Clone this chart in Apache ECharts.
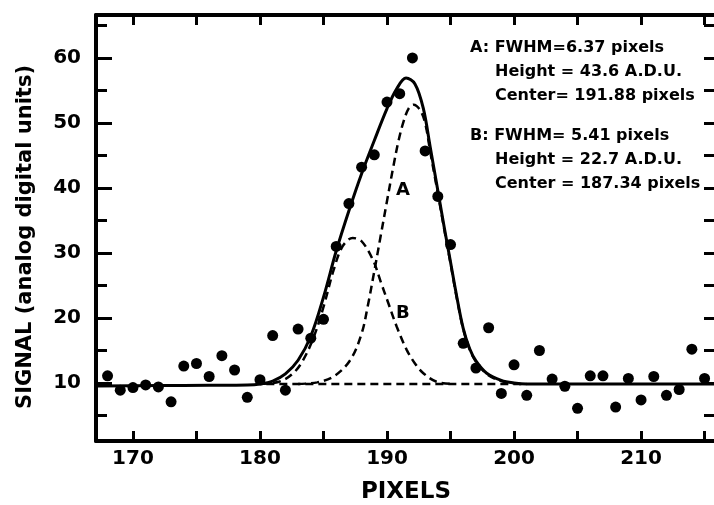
<!DOCTYPE html>
<html>
<head>
<meta charset="utf-8">
<title>Signal vs pixels</title>
<script src="https://cdn.jsdelivr.net/npm/echarts@6/dist/echarts.min.js"></script>
<style>
  html, body { margin: 0; padding: 0; background: #fff; }
  #main { width: 714px; height: 505px; }
</style>
</head>
<body>
<div id="main"></div>
<script>
  // measured signal, one point per pixel
  var pixels = [168, 169, 170, 171, 172, 173, 174, 175, 176, 177, 178, 179, 180, 181, 182, 183, 184, 185, 186, 187,
    188, 189, 190, 191, 192, 193, 194, 195, 196, 197, 198, 199, 200, 201, 202, 203, 204, 205, 206, 207,
    208, 209, 210, 211, 212, 213, 214, 215]
  var signal = [11.1, 8.9, 9.3, 9.7, 9.4, 7.1, 12.6, 13.0, 11.0, 14.2, 12.0, 7.8, 10.5, 17.3, 8.9, 18.3, 16.9, 19.8, 31.0, 37.6,
    43.2, 45.1, 53.2, 54.5, 60.0, 45.7, 38.7, 31.3, 16.1, 12.3, 18.5, 8.4, 12.8, 8.1, 15.0, 10.6, 9.5, 6.1, 11.1, 11.1,
    6.3, 10.7, 7.4, 11.0, 8.1, 9.0, 15.2, 10.7]

  // fitted sum (solid line)
  var fitX = [167.1, 172, 176, 179, 180, 181, 182, 183, 184, 185, 186, 187, 188, 189, 190, 190.75, 191.5, 192.2, 192.85,
    193.4, 194, 194.5, 195, 195.5, 196, 196.5, 197, 197.85, 199, 200, 201, 216]
  var fitY = [9.55, 9.6, 9.65, 9.7, 9.85, 10.3, 11.4, 13.5, 17.2, 23.2, 30.3, 36.5, 42.2, 47.3, 52.2, 55.2, 56.9, 56.0, 52.3,
    46.3, 39.6, 34.0, 28.6, 23.2, 18.4, 15.3, 13.4, 11.5, 10.4, 10.0, 9.85, 9.85]

  // component A (dashed)
  var compAX = [183, 184.5, 185.8, 187.1, 188, 188.5, 189, 189.5, 190, 190.5, 190.9, 191.3, 191.7, 192.1, 192.6, 193,
    193.4, 194, 194.5, 195, 195.5, 196, 196.5, 197, 197.85, 199, 200.5]
  var compAY = [9.85, 10.1, 11.0, 13.5, 17.6, 22.0, 27.2, 32.6, 38.0, 43.3, 47.2, 50.2, 52.2, 52.8, 52.0, 50.0,
    45.6, 39.2, 33.7, 28.4, 23.0, 18.3, 15.2, 13.3, 11.4, 10.3, 9.85]

  // component B (dashed)
  var compBX = [180, 181.5, 182.5, 183.3, 184.2, 185, 185.8, 186.5, 187.3, 188, 188.9, 189.5, 190.1, 190.76, 191.55,
    192.2, 192.86, 193.9, 195.2]
  var compBY = [9.85, 10.2, 11.3, 13.2, 16.9, 21.7, 27.4, 31.0, 32.3, 31.8, 28.9, 25.6, 22.3, 18.7, 15.1,
    13.0, 11.5, 10.2, 9.85]

  var baseX = [180.5, 201]
  var baseY = [9.85, 9.85]

  var xTicks = [170, 175, 180, 185, 190, 195, 200, 205, 210, 215]
  var xLabels = [170, 180, 190, 200, 210]
  var yMajor = [10, 20, 30, 40, 50, 60]
  var yMinor = [5, 15, 25, 35, 45, 55, 65]
  var yRight = [5, 10, 15, 20, 25, 30, 35, 40, 45, 50, 55, 60, 65]

  var notes = [
    'A: FWHM=6.37 pixels', 'Height = 43.6 A.D.U.', 'Center= 191.88 pixels',
    'B: FWHM= 5.41 pixels', 'Height = 22.7 A.D.U.', 'Center = 187.34 pixels'
  ]

  function zip(xs, ys) {
    var out = []
    for (var i = 0; i < xs.length; i++) out.push([xs[i], ys[i]])
    return out
  }

  var FONT = 'DejaVu Sans'
  var xMin = 167.09, xMax = 215.9
  var yMin = 1.08, yMax = 66.6

  var thick = { show: true, onZero: false, lineStyle: { color: '#000', width: 4 } }

  function xAxisOf(pos, labels) {
    return {
      type: 'value', position: pos, min: xMin, max: xMax,
      axisLine: thick,
      axisTick: { inside: true, length: 10, customValues: xTicks, lineStyle: { color: '#000', width: 3 } },
      axisLabel: labels ? { customValues: xLabels, margin: 8, color: '#000', fontFamily: FONT, fontWeight: 'bold', fontSize: 20 } : { show: false },
      splitLine: { show: false },
      name: labels ? 'PIXELS' : '',
      nameLocation: 'middle', nameGap: 40,
      nameTextStyle: { color: '#000', fontFamily: FONT, fontWeight: 'bold', fontSize: 23 }
    }
  }

  var labelsLeft = 470, labelsIndent = 495
  var noteY = [50, 74, 98, 138, 162, 186]
  var graphics = notes.map(function (t, i) {
    return {
      type: 'text', left: (i % 3 === 0) ? labelsLeft : labelsIndent, top: noteY[i] - 10,
      style: { text: t, fill: '#000', font: 'bold 16px "' + FONT + '"' }
    }
  })
  graphics.push({ type: 'text', left: 396, top: 181, style: { text: 'A', fill: '#000', font: 'bold 18px "' + FONT + '"' } })
  graphics.push({ type: 'text', left: 396, top: 304, style: { text: 'B', fill: '#000', font: 'bold 18px "' + FONT + '"' } })

  var dashed = { color: '#000', width: 2.5, type: [8, 5] }

  var chart = echarts.init(document.getElementById('main'))
  chart.setOption({
    animation: false,
    backgroundColor: '#fff',
    // keep the frame where the reference has it, labels may sit near the edge
    grid: { left: 96, right: -2, top: 15, bottom: 64, outerBoundsMode: 'none' },
    xAxis: [xAxisOf('bottom', true), xAxisOf('top', false)],
    yAxis: [
      {
        type: 'value', position: 'left', min: yMin, max: yMax,
        axisLine: thick,
        axisTick: { inside: true, length: 16, customValues: yMajor, lineStyle: { color: '#000', width: 3 } },
        axisLabel: { customValues: yMajor, margin: 15, color: '#000', fontFamily: FONT, fontWeight: 'bold', fontSize: 20 },
        splitLine: { show: false },
        name: 'SIGNAL (analog digital units)',
        nameLocation: 'middle', nameGap: 60,
        nameTextStyle: { color: '#000', fontFamily: FONT, fontWeight: 'bold', fontSize: 21, padding: [0, 18, 0, 0] }
      },
      {
        type: 'value', position: 'left', min: yMin, max: yMax,
        axisLine: { show: false },
        axisTick: { inside: true, length: 11, customValues: yMinor, lineStyle: { color: '#000', width: 3 } },
        axisLabel: { show: false },
        splitLine: { show: false }
      },
      {
        type: 'value', position: 'right', min: yMin, max: yMax,
        axisLine: thick,
        axisTick: { inside: true, length: 12, customValues: yRight, lineStyle: { color: '#000', width: 3 } },
        axisLabel: { show: false },
        splitLine: { show: false }
      }
    ],
    graphic: graphics,
    series: [
      { type: 'line', data: zip(baseX, baseY), showSymbol: false, lineStyle: dashed, z: 2 },
      { type: 'line', data: zip(compBX, compBY), showSymbol: false, smooth: 0.35, lineStyle: dashed, z: 2 },
      { type: 'line', data: zip(compAX, compAY), showSymbol: false, smooth: 0.35, lineStyle: dashed, z: 2 },
      {
        type: 'line', data: zip(fitX, fitY), showSymbol: false, smooth: 0.35,
        lineStyle: { color: '#000', width: 3 }, z: 3
      },
      {
        type: 'scatter', data: zip(pixels, signal), symbol: 'circle', symbolSize: 11,
        itemStyle: { color: '#000', opacity: 1 }, z: 4
      }
    ]
  })
</script>
</body>
</html>
